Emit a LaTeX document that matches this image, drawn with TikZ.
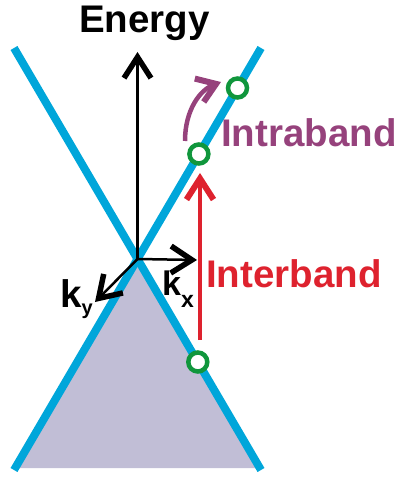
\documentclass[tikz,border=0pt]{standalone}
\usepackage{fontspec}
\setmainfont{Liberation Sans}
\usetikzlibrary{arrows.meta}
\definecolor{bandblue}{RGB}{0,166,218}
\definecolor{fillv}{RGB}{193,190,214}
\definecolor{cgreen}{RGB}{16,150,60}
\definecolor{cred}{RGB}{222,34,46}
\definecolor{cpurple}{RGB}{150,66,124}
\tikzset{
  band/.style={draw=bandblue, line width=8pt},
  axisarrow/.style={draw=black, line width=2.5pt, -{Straight Barb[length=21pt,width=27pt,line width=5.5pt]}},
  state/.style={circle, draw=cgreen, fill=white, line width=4.5pt, minimum size=19pt, inner sep=0pt},
  lbl/.style={font=\bfseries\fontsize{38.5}{42}\selectfont, inner sep=0pt, anchor=base west},
}
\begin{document}
\begin{tikzpicture}[x=1pt,y=-1pt]
\useasboundingbox (0,0) rectangle (402,478);
% Dirac point
\coordinate (o) at (137.5,259);
\coordinate (lt) at (14,48);
\coordinate (rb) at (261,470);
\coordinate (rt) at (261,48);
\coordinate (lb) at (14,470);
% filled lower cone
\fill[fillv] (o) -- (16,468) -- (259,468) -- cycle;
% bands
\draw[band] (lt) -- (rb);
\draw[band] (rt) -- (lb);
% axes
\coordinate (etip) at (137.5,52);
\coordinate (kxtip) at (197,260);
\coordinate (kytip) at (95,302);
\draw[axisarrow] (o) -- (etip);
\draw[axisarrow] (o) -- (kxtip);
\draw[axisarrow] (o) -- (kytip);
\node[lbl] (energy) at (79,33) {Energy};
\node[lbl] (ky) at (60,307) {k\raisebox{-7pt}{\fontsize{20}{20}\selectfont y}};
\node[lbl, font=\bfseries\fontsize{34}{36}\selectfont] (kx) at (162,295) {k\raisebox{-12pt}{\fontsize{23}{24}\selectfont x}};
% states
\node[state] (c1) at (237.5,88) {};
\node[state] (c2) at (198.9,154) {};
\node[state] (c3) at (197.8,362) {};
% interband
\coordinate (rbot) at (200,340);
\coordinate (rtop) at (200,173);
\draw[cred, line width=4pt, -{Straight Barb[length=21pt,width=27pt,line width=6pt]}] (rbot) -- (rtop);
\node[lbl, text=cred] (inter) at (206,287) {Interband};
% intraband
\coordinate (pstart) at (185,141);
\coordinate (ptip) at (221,82);
\draw[cpurple, line width=4.5pt, -{Straight Barb[length=18pt,width=25pt,line width=6pt]}] (pstart) .. controls (185,110) and (200,90) .. (ptip);
\node[lbl, text=cpurple] (intra) at (221,147) {Intraband};
\end{tikzpicture}
\end{document}
